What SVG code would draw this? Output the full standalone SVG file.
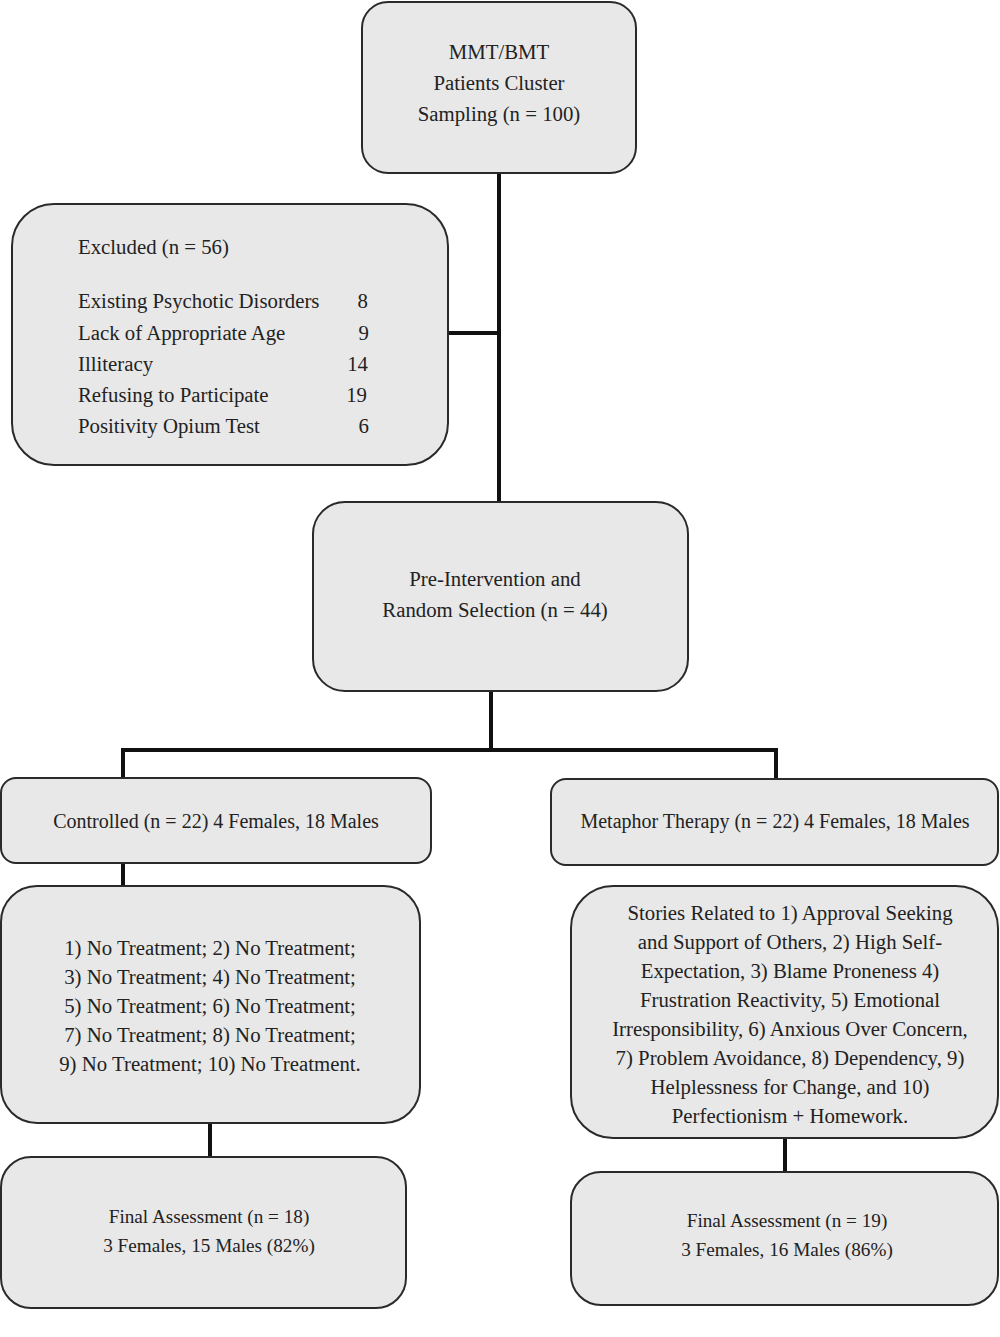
<svg xmlns="http://www.w3.org/2000/svg" width="1000" height="1337" viewBox="0 0 1000 1337">
<style>
.box{fill:#e8e8e8;stroke:#2a2a2a;stroke-width:2}
text{font-family:"Liberation Serif","Times New Roman",serif;font-size:20.8px;fill:#222}
.s{font-size:20px}
.f{font-size:19.2px}
.c{text-anchor:middle}
.r{text-anchor:end}
.conn{fill:none;stroke:#111;stroke-width:4}
</style>
<rect width="1000" height="1337" fill="#fff"/>
<g id="connectors">
<path class="conn" d="M499 173V502M448 333H499"/>
<path class="conn" d="M491 691V750M123 750H776M123 748V778M776 748V779"/>
<path class="conn" d="M123 863V886"/>
<path class="conn" d="M210 1123V1157"/>
<path class="conn" d="M785 1138V1172"/>
</g>
<g id="n1">
<rect class="box" x="362" y="2" width="274" height="171" rx="26"/>
<text class="c" x="499" y="59">MMT/BMT</text>
<text class="c" x="499" y="90">Patients Cluster</text>
<text class="c" x="499" y="121">Sampling (n = 100)</text>
</g>
<g id="n2">
<rect class="box" x="12" y="204" width="436" height="261" rx="42"/>
<text x="78" y="254">Excluded (n = 56)</text>
<text x="78" y="308">Existing Psychotic Disorders</text>
<text x="78" y="340">Lack of Appropriate Age</text>
<text x="78" y="371">Illiteracy</text>
<text x="78" y="402">Refusing to Participate</text>
<text x="78" y="433">Positivity Opium Test</text>
<text class="r" x="368" y="308">8</text>
<text class="r" x="369" y="340">9</text>
<text class="r" x="368" y="371">14</text>
<text class="r" x="367" y="402">19</text>
<text class="r" x="369" y="433">6</text>
</g>
<g id="n3">
<rect class="box" x="313" y="502" width="375" height="189" rx="32"/>
<text class="c" x="495" y="586">Pre-Intervention and</text>
<text class="c" x="495" y="617">Random Selection (n = 44)</text>
</g>
<g id="n4">
<rect class="box" x="1" y="778" width="430" height="85" rx="15"/>
<text class="c s" x="216" y="828">Controlled (n = 22) 4 Females, 18 Males</text>
</g>
<g id="n5">
<rect class="box" x="551" y="779" width="447" height="86" rx="15"/>
<text class="c s" x="775" y="828">Metaphor Therapy (n = 22) 4 Females, 18 Males</text>
</g>
<g id="n6">
<rect class="box" x="1" y="886" width="419" height="237" rx="36"/>
<text class="c" x="210" y="955">1) No Treatment; 2) No Treatment;</text>
<text class="c" x="210" y="984">3) No Treatment; 4) No Treatment;</text>
<text class="c" x="210" y="1013">5) No Treatment; 6) No Treatment;</text>
<text class="c" x="210" y="1042">7) No Treatment; 8) No Treatment;</text>
<text class="c" x="210" y="1071">9) No Treatment; 10) No Treatment.</text>
</g>
<g id="n7">
<rect class="box" x="1" y="1157" width="405" height="151" rx="30"/>
<text class="c f" x="209" y="1223">Final Assessment (n = 18)</text>
<text class="c f" x="209" y="1252">3 Females, 15 Males (82%)</text>
</g>
<g id="n8">
<rect class="box" x="571" y="886" width="427" height="252" rx="42"/>
<text class="c" x="790" y="920">Stories Related to 1) Approval Seeking</text>
<text class="c" x="790" y="949">and Support of Others, 2) High Self-</text>
<text class="c" x="790" y="978">Expectation, 3) Blame Proneness 4)</text>
<text class="c" x="790" y="1007">Frustration Reactivity, 5) Emotional</text>
<text class="c" x="790" y="1036">Irresponsibility, 6) Anxious Over Concern,</text>
<text class="c" x="790" y="1065">7) Problem Avoidance, 8) Dependency, 9)</text>
<text class="c" x="790" y="1094">Helplessness for Change, and 10)</text>
<text class="c" x="790" y="1123">Perfectionism + Homework.</text>
</g>
<g id="n9">
<rect class="box" x="571" y="1172" width="427" height="133" rx="30"/>
<text class="c f" x="787" y="1227">Final Assessment (n = 19)</text>
<text class="c f" x="787" y="1256">3 Females, 16 Males (86%)</text>
</g>
</svg>
